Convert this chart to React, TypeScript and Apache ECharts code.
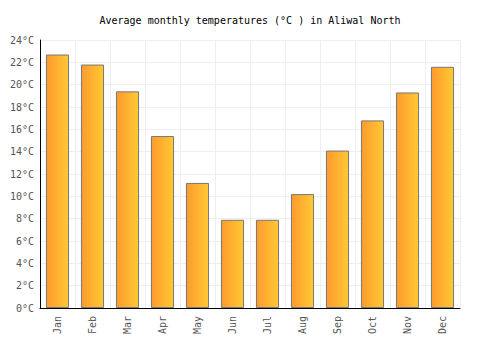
import React, { useEffect, useRef } from "react";
import * as echarts from "echarts";

const months = ["Jan", "Feb", "Mar", "Apr", "May", "Jun", "Jul", "Aug", "Sep", "Oct", "Nov", "Dec"];
const temps = [22.7, 21.8, 19.4, 15.4, 11.2, 7.9, 7.9, 10.2, 14.1, 16.8, 19.3, 21.6];
const titleText = "Average monthly temperatures (°C ) in Aliwal North";

export default function App() {
  const ref = useRef<HTMLDivElement>(null);
  useEffect(() => {
    if (!ref.current) return;
    const chart = echarts.init(ref.current, undefined, { renderer: "svg" });
    const font = "'DejaVu Sans Mono', monospace";
    chart.setOption({
      animation: false,
      title: {
        text: titleText,
        left: "center",
        top: 10,
        textStyle: { fontFamily: font, fontSize: 10, fontWeight: "normal", color: "#000" },
      },
      grid: { left: 40, right: 40, top: 40, bottom: 42 },
      xAxis: {
        type: "category",
        data: months,
        axisLine: { lineStyle: { color: "#000", width: 1 } },
        axisTick: { show: false },
        axisLabel: { rotate: 90, fontFamily: font, fontSize: 10, color: "#555", margin: 8 },
        splitLine: { show: true, lineStyle: { color: "#eee" } },
      },
      yAxis: {
        type: "value",
        min: 0,
        max: 24,
        interval: 2,
        axisLine: { show: true, lineStyle: { color: "#000", width: 1 } },
        axisTick: { show: false },
        axisLabel: { formatter: "{value}°C", fontFamily: font, fontSize: 10, color: "#555", margin: 6 },
        splitLine: { show: true, lineStyle: { color: "#eee" } },
      },
      series: [
        {
          type: "bar",
          data: temps,
          barWidth: "66%",
          itemStyle: {
            color: new echarts.graphic.LinearGradient(0, 0, 1, 0, [
              { offset: 0, color: "#FF9A2E" },
              { offset: 1, color: "#FFC933" },
            ]),
            borderColor: "#777",
            borderWidth: 1,
          },
        },
      ],
    });
    return () => chart.dispose();
  }, []);
  return <div ref={ref} style={{ width: 500, height: 350, position: "absolute", left: 0, top: 0 }} />;
}
